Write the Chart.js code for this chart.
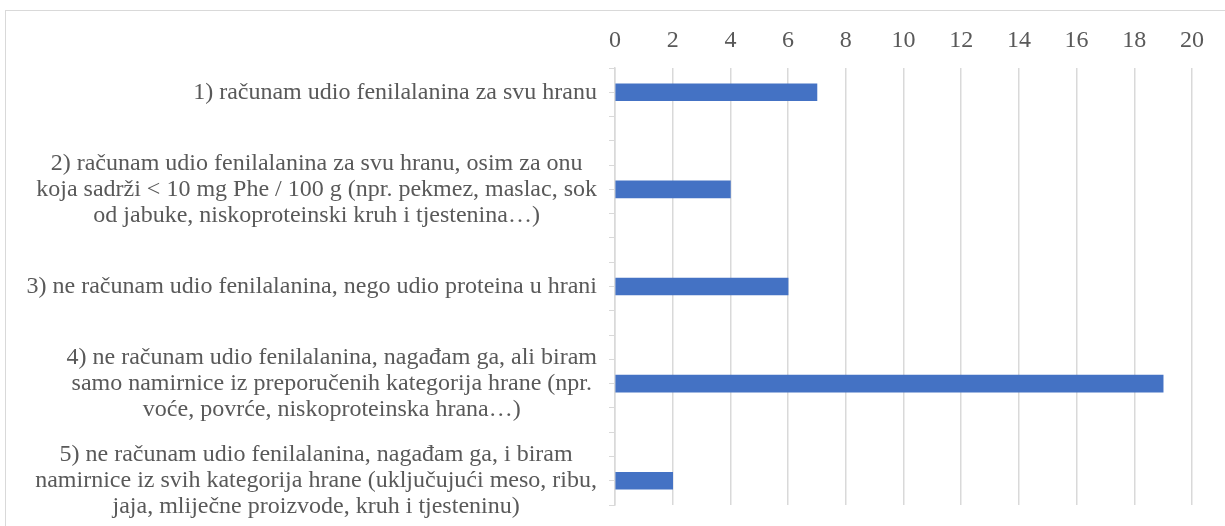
<!DOCTYPE html>
<html>
<head>
<meta charset="utf-8">
<script src="https://cdn.jsdelivr.net/npm/chart.js@4"></script>
<style>
    body { margin: 0; background: #ffffff; }
    #wrap { position: relative; width: 1225px; height: 526px; overflow: hidden; }
    #frame { position: absolute; left: 5px; top: 10px; width: 1400px; height: 700px;
             border-left: 1px solid #d9d9d9; border-top: 1px solid #d9d9d9; }
    #chartPhe { position: absolute; left: 0; top: 0; }
</style>
</head>
<body>
<div id="wrap">
    <div id="frame"></div>
    <canvas id="chartPhe" width="1225" height="526"></canvas>
</div>
<script>
// Answers (each one split into the lines as they appear)
const answerLabels = [
    ['1) računam udio fenilalanina za svu hranu'],
    ['2) računam udio fenilalanina za svu hranu, osim za onu',
     'koja sadrži < 10 mg Phe / 100 g (npr. pekmez, maslac, sok',
     'od jabuke, niskoproteinski kruh i tjestenina…)'],
    ['3) ne računam udio fenilalanina, nego udio proteina u hrani'],
    ['4) ne računam udio fenilalanina, nagađam ga, ali biram',
     'samo namirnice iz preporučenih kategorija hrane (npr.',
     'voće, povrće, niskoproteinska hrana…)'],
    ['5) ne računam udio fenilalanina, nagađam ga, i biram',
     'namirnice iz svih kategorija hrane (uključujući meso, ribu,',
     'jaja, mliječne proizvode, kruh i tjesteninu)'],
];
// Number of answers
const answerCounts = [7, 4, 6, 19, 2];
// Slot of each answer on the (0..18) category axis
const answerSlots = [1, 5, 9, 13, 17];
// Value axis ticks
const xTicks = [0, 2, 4, 6, 8, 10, 12, 14, 16, 18, 20];

const barColor = '#4472C4';
const gridColor = '#d9d9d9';
const textColor = '#595959';
const fontFamily = "'Liberation Serif', 'Times New Roman', serif";

// Draw the multi-line answers, lines centred inside a right-aligned block (like Excel)
const answerLabelPlugin = {
    id: 'answerLabels',
    afterDraw(chart) {
        const ctx = chart.ctx;
        const yScale = chart.scales.y;
        const rightX = yScale.right - 18;
        const lineHeight = 26;
        ctx.save();
        ctx.font = '24px ' + fontFamily;
        ctx.fillStyle = textColor;
        ctx.textAlign = 'center';
        ctx.textBaseline = 'middle';
        answerLabels.forEach((lines, i) => {
            const widest = Math.max(...lines.map((l) => ctx.measureText(l).width));
            const centerX = rightX - widest / 2;
            const centerY = yScale.getPixelForValue(answerSlots[i]);
            lines.forEach((line, j) => {
                const y = centerY + (j - (lines.length - 1) / 2) * lineHeight;
                ctx.fillText(line, centerX, y);
            });
        });
        ctx.restore();
    },
};

const ctxPhe = document.getElementById('chartPhe').getContext('2d');
const chartPhe = new Chart(ctxPhe, {
    type: 'bar',
    data: {
        datasets: [
            {
                data: answerCounts.map((v, i) => ({ x: v, y: answerSlots[i] })),
                backgroundColor: barColor,
                borderWidth: 0,
                barThickness: 17,
            },
        ],
    },
    options: {
        indexAxis: 'y',
        responsive: false,
        animation: false,
        layout: { padding: { left: 0, right: 33, top: 0, bottom: 21 } },
        plugins: {
            legend: { display: false },
            tooltip: { enabled: false },
        },
        scales: {
            x: {
                type: 'linear',
                position: 'top',
                min: 0,
                max: 20,
                afterBuildTicks: (scale) => {
                    scale.ticks = xTicks.map((v) => ({ value: v }));
                },
                afterFit: (scale) => { scale.height = 68; },
                grid: { color: gridColor, lineWidth: 1.5, drawTicks: false },
                border: { display: false },
                ticks: {
                    color: textColor,
                    padding: 13,
                    font: { family: fontFamily, size: 24 },
                },
            },
            y: {
                type: 'linear',
                reverse: true,
                offset: false,
                min: 0,
                max: 18,
                afterFit: (scale) => { scale.width = 615; },
                ticks: { stepSize: 1, display: false },
                grid: {
                    offset: false,
                    drawOnChartArea: false,
                    drawTicks: true,
                    tickLength: 6,
                    color: gridColor,
                    lineWidth: 1,
                },
                border: { display: true, color: gridColor, width: 1.5 },
            },
        },
    },
    plugins: [answerLabelPlugin],
});
</script>
</body>
</html>
